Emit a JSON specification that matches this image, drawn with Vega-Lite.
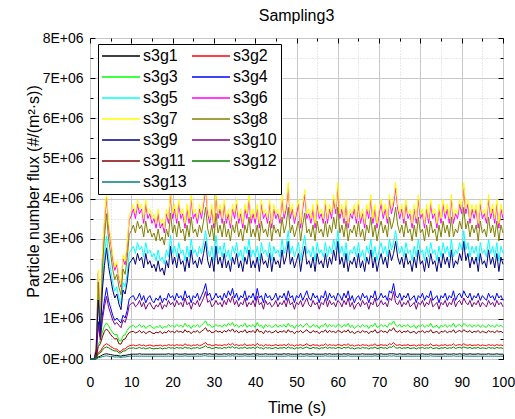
{
"$schema": "https://vega.github.io/schema/vega-lite/v6.json",
"width": 413, "height": 321,
"autosize": {"type": "none"},
"padding": {"left": 90, "top": 38, "right": 12, "bottom": 60},
"background": "white",
"title": {"text": "Sampling3", "fontSize": 16, "font": "Liberation Sans", "fontWeight": "normal", "color": "black", "offset": 14, "dy": 20, "anchor": "middle", "frame": "group", "baseline": "alphabetic"},
"data": {"values": [
{"t":0,"s3g1":0,"s3g2":0,"s3g3":0,"s3g4":0,"s3g5":0,"s3g6":0,"s3g7":0,"s3g8":0,"s3g9":0,"s3g10":0,"s3g11":0,"s3g12":0,"s3g13":0},
{"t":0.5,"s3g1":0,"s3g2":0,"s3g3":0,"s3g4":0,"s3g5":0,"s3g6":0,"s3g7":0,"s3g8":0,"s3g9":0,"s3g10":0,"s3g11":0,"s3g12":0,"s3g13":0},
{"t":1,"s3g1":0,"s3g2":0,"s3g3":0,"s3g4":0,"s3g5":0,"s3g6":0,"s3g7":0,"s3g8":0,"s3g9":0,"s3g10":0,"s3g11":0,"s3g12":0,"s3g13":0},
{"t":1.5,"s3g1":0.01,"s3g2":0.02,"s3g3":0.04,"s3g4":0.12,"s3g5":0.22,"s3g6":0.29,"s3g7":0.3,"s3g8":0.26,"s3g9":0.2,"s3g10":0.11,"s3g11":0.03,"s3g12":0.01,"s3g13":0},
{"t":2,"s3g1":0.05,"s3g2":0.16,"s3g3":0.37,"s3g4":0.93,"s3g5":1.63,"s3g6":2.14,"s3g7":2.22,"s3g8":1.92,"s3g9":1.47,"s3g10":0.83,"s3g11":0.31,"s3g12":0.13,"s3g13":0.03},
{"t":2.5,"s3g1":0.07,"s3g2":0.19,"s3g3":0.46,"s3g4":0.55,"s3g5":0.68,"s3g6":0.9,"s3g7":0.93,"s3g8":0.8,"s3g9":0.61,"s3g10":0.48,"s3g11":0.38,"s3g12":0.15,"s3g13":0.04},
{"t":3,"s3g1":0.1,"s3g2":0.28,"s3g3":0.66,"s3g4":1.09,"s3g5":1.9,"s3g6":2.5,"s3g7":2.59,"s3g8":2.24,"s3g9":1.72,"s3g10":0.97,"s3g11":0.55,"s3g12":0.22,"s3g13":0.06},
{"t":3.5,"s3g1":0.12,"s3g2":0.35,"s3g3":0.83,"s3g4":1.47,"s3g5":2.58,"s3g6":3.4,"s3g7":3.52,"s3g8":3.04,"s3g9":2.33,"s3g10":1.31,"s3g11":0.69,"s3g12":0.28,"s3g13":0.07},
{"t":4,"s3g1":0.13,"s3g2":0.38,"s3g3":0.9,"s3g4":1.78,"s3g5":3.07,"s3g6":4.03,"s3g7":4.18,"s3g8":3.62,"s3g9":2.77,"s3g10":1.56,"s3g11":0.75,"s3g12":0.3,"s3g13":0.08},
{"t":4.5,"s3g1":0.12,"s3g2":0.35,"s3g3":0.83,"s3g4":1.45,"s3g5":2.55,"s3g6":3.28,"s3g7":3.4,"s3g8":2.98,"s3g9":2.3,"s3g10":1.29,"s3g11":0.69,"s3g12":0.28,"s3g13":0.07},
{"t":5,"s3g1":0.11,"s3g2":0.31,"s3g3":0.73,"s3g4":1.27,"s3g5":2.23,"s3g6":2.92,"s3g7":3.03,"s3g8":2.62,"s3g9":2.01,"s3g10":1.13,"s3g11":0.61,"s3g12":0.25,"s3g13":0.06},
{"t":5.5,"s3g1":0.1,"s3g2":0.28,"s3g3":0.66,"s3g4":1.09,"s3g5":1.9,"s3g6":2.5,"s3g7":2.59,"s3g8":2.24,"s3g9":1.72,"s3g10":0.97,"s3g11":0.55,"s3g12":0.22,"s3g13":0.06},
{"t":6,"s3g1":0.09,"s3g2":0.25,"s3g3":0.6,"s3g4":0.96,"s3g5":1.69,"s3g6":2.21,"s3g7":2.29,"s3g8":1.98,"s3g9":1.52,"s3g10":0.86,"s3g11":0.5,"s3g12":0.2,"s3g13":0.05},
{"t":6.5,"s3g1":0.09,"s3g2":0.25,"s3g3":0.62,"s3g4":1.02,"s3g5":1.8,"s3g6":2.35,"s3g7":2.44,"s3g8":2.11,"s3g9":1.62,"s3g10":0.91,"s3g11":0.51,"s3g12":0.2,"s3g13":0.05},
{"t":7,"s3g1":0.08,"s3g2":0.19,"s3g3":0.46,"s3g4":0.95,"s3g5":1.52,"s3g6":2.0,"s3g7":2.07,"s3g8":1.79,"s3g9":1.37,"s3g10":0.84,"s3g11":0.38,"s3g12":0.15,"s3g13":0.05},
{"t":7.5,"s3g1":0.07,"s3g2":0.19,"s3g3":0.45,"s3g4":0.9,"s3g5":1.36,"s3g6":1.79,"s3g7":1.85,"s3g8":1.6,"s3g9":1.23,"s3g10":0.78,"s3g11":0.37,"s3g12":0.15,"s3g13":0.04},
{"t":8,"s3g1":0.09,"s3g2":0.25,"s3g3":0.58,"s3g4":1.09,"s3g5":1.9,"s3g6":2.5,"s3g7":2.59,"s3g8":2.24,"s3g9":1.72,"s3g10":0.97,"s3g11":0.48,"s3g12":0.2,"s3g13":0.05},
{"t":8.5,"s3g1":0.09,"s3g2":0.25,"s3g3":0.6,"s3g4":1.02,"s3g5":1.8,"s3g6":2.35,"s3g7":2.44,"s3g8":2.11,"s3g9":1.62,"s3g10":0.91,"s3g11":0.5,"s3g12":0.2,"s3g13":0.05},
{"t":9,"s3g1":0.1,"s3g2":0.3,"s3g3":0.71,"s3g4":1.21,"s3g5":2.12,"s3g6":2.79,"s3g7":2.89,"s3g8":2.5,"s3g9":1.91,"s3g10":1.08,"s3g11":0.59,"s3g12":0.24,"s3g13":0.06},
{"t":9.5,"s3g1":0.11,"s3g2":0.33,"s3g3":0.79,"s3g4":1.5,"s3g5":2.64,"s3g6":3.46,"s3g7":3.59,"s3g8":3.1,"s3g9":2.38,"s3g10":1.34,"s3g11":0.66,"s3g12":0.27,"s3g13":0.07},
{"t":10,"s3g1":0.12,"s3g2":0.34,"s3g3":0.81,"s3g4":1.55,"s3g5":2.72,"s3g6":3.57,"s3g7":3.7,"s3g8":3.2,"s3g9":2.45,"s3g10":1.38,"s3g11":0.68,"s3g12":0.27,"s3g13":0.07},
{"t":10.5,"s3g1":0.12,"s3g2":0.35,"s3g3":0.84,"s3g4":1.58,"s3g5":2.81,"s3g6":3.74,"s3g7":3.86,"s3g8":3.34,"s3g9":2.54,"s3g10":1.41,"s3g11":0.69,"s3g12":0.28,"s3g13":0.07},
{"t":11,"s3g1":0.12,"s3g2":0.33,"s3g3":0.79,"s3g4":1.46,"s3g5":2.63,"s3g6":3.5,"s3g7":3.62,"s3g8":3.14,"s3g9":2.36,"s3g10":1.3,"s3g11":0.65,"s3g12":0.26,"s3g13":0.07},
{"t":11.5,"s3g1":0.12,"s3g2":0.34,"s3g3":0.81,"s3g4":1.52,"s3g5":2.9,"s3g6":3.86,"s3g7":3.98,"s3g8":3.44,"s3g9":2.63,"s3g10":1.35,"s3g11":0.67,"s3g12":0.27,"s3g13":0.07},
{"t":12,"s3g1":0.13,"s3g2":0.36,"s3g3":0.86,"s3g4":1.64,"s3g5":2.72,"s3g6":3.62,"s3g7":3.74,"s3g8":3.24,"s3g9":2.45,"s3g10":1.46,"s3g11":0.71,"s3g12":0.29,"s3g13":0.07},
{"t":12.5,"s3g1":0.12,"s3g2":0.33,"s3g3":0.79,"s3g4":1.46,"s3g5":2.81,"s3g6":3.74,"s3g7":3.86,"s3g8":3.34,"s3g9":2.54,"s3g10":1.3,"s3g11":0.65,"s3g12":0.26,"s3g13":0.07},
{"t":13,"s3g1":0.12,"s3g2":0.35,"s3g3":0.84,"s3g4":1.58,"s3g5":2.54,"s3g6":3.38,"s3g7":3.5,"s3g8":3.04,"s3g9":2.27,"s3g10":1.41,"s3g11":0.69,"s3g12":0.28,"s3g13":0.07},
{"t":13.5,"s3g1":0.12,"s3g2":0.32,"s3g3":0.76,"s3g4":1.4,"s3g5":2.9,"s3g6":3.86,"s3g7":3.98,"s3g8":3.44,"s3g9":2.63,"s3g10":1.24,"s3g11":0.63,"s3g12":0.25,"s3g13":0.07},
{"t":14,"s3g1":0.12,"s3g2":0.34,"s3g3":0.81,"s3g4":1.52,"s3g5":2.63,"s3g6":3.5,"s3g7":3.62,"s3g8":3.14,"s3g9":2.36,"s3g10":1.35,"s3g11":0.67,"s3g12":0.27,"s3g13":0.07},
{"t":14.5,"s3g1":0.12,"s3g2":0.35,"s3g3":0.84,"s3g4":1.58,"s3g5":2.72,"s3g6":3.62,"s3g7":3.74,"s3g8":3.24,"s3g9":2.45,"s3g10":1.41,"s3g11":0.69,"s3g12":0.28,"s3g13":0.07},
{"t":15,"s3g1":0.12,"s3g2":0.33,"s3g3":0.79,"s3g4":1.46,"s3g5":2.54,"s3g6":3.38,"s3g7":3.5,"s3g8":3.04,"s3g9":2.27,"s3g10":1.3,"s3g11":0.65,"s3g12":0.26,"s3g13":0.07},
{"t":15.5,"s3g1":0.12,"s3g2":0.32,"s3g3":0.76,"s3g4":1.4,"s3g5":2.63,"s3g6":3.5,"s3g7":3.62,"s3g8":3.14,"s3g9":2.36,"s3g10":1.24,"s3g11":0.63,"s3g12":0.25,"s3g13":0.07},
{"t":16,"s3g1":0.12,"s3g2":0.34,"s3g3":0.81,"s3g4":1.52,"s3g5":2.45,"s3g6":3.26,"s3g7":3.38,"s3g8":2.94,"s3g9":2.18,"s3g10":1.35,"s3g11":0.67,"s3g12":0.27,"s3g13":0.07},
{"t":16.5,"s3g1":0.12,"s3g2":0.33,"s3g3":0.79,"s3g4":1.46,"s3g5":2.72,"s3g6":3.62,"s3g7":3.74,"s3g8":3.24,"s3g9":2.45,"s3g10":1.3,"s3g11":0.65,"s3g12":0.26,"s3g13":0.07},
{"t":17,"s3g1":0.12,"s3g2":0.35,"s3g3":0.84,"s3g4":1.58,"s3g5":2.45,"s3g6":3.26,"s3g7":3.38,"s3g8":2.94,"s3g9":2.18,"s3g10":1.41,"s3g11":0.69,"s3g12":0.28,"s3g13":0.07},
{"t":17.5,"s3g1":0.12,"s3g2":0.32,"s3g3":0.76,"s3g4":1.4,"s3g5":2.54,"s3g6":3.38,"s3g7":3.5,"s3g8":3.04,"s3g9":2.27,"s3g10":1.24,"s3g11":0.63,"s3g12":0.25,"s3g13":0.07},
{"t":18,"s3g1":0.12,"s3g2":0.34,"s3g3":0.81,"s3g4":1.52,"s3g5":2.36,"s3g6":3.14,"s3g7":3.26,"s3g8":2.84,"s3g9":2.09,"s3g10":1.35,"s3g11":0.67,"s3g12":0.27,"s3g13":0.07},
{"t":18.5,"s3g1":0.12,"s3g2":0.33,"s3g3":0.79,"s3g4":1.46,"s3g5":2.72,"s3g6":3.62,"s3g7":3.74,"s3g8":3.24,"s3g9":2.45,"s3g10":1.3,"s3g11":0.65,"s3g12":0.26,"s3g13":0.07},
{"t":19,"s3g1":0.13,"s3g2":0.36,"s3g3":0.86,"s3g4":1.64,"s3g5":2.54,"s3g6":3.38,"s3g7":3.5,"s3g8":3.04,"s3g9":2.27,"s3g10":1.46,"s3g11":0.71,"s3g12":0.29,"s3g13":0.07},
{"t":19.5,"s3g1":0.12,"s3g2":0.34,"s3g3":0.81,"s3g4":1.52,"s3g5":3.08,"s3g6":4.1,"s3g7":4.22,"s3g8":3.64,"s3g9":2.81,"s3g10":1.35,"s3g11":0.67,"s3g12":0.27,"s3g13":0.07},
{"t":20,"s3g1":0.12,"s3g2":0.35,"s3g3":0.84,"s3g4":1.58,"s3g5":2.63,"s3g6":3.5,"s3g7":3.62,"s3g8":3.14,"s3g9":2.36,"s3g10":1.41,"s3g11":0.69,"s3g12":0.28,"s3g13":0.07},
{"t":20.5,"s3g1":0.12,"s3g2":0.33,"s3g3":0.79,"s3g4":1.46,"s3g5":2.81,"s3g6":3.74,"s3g7":3.86,"s3g8":3.34,"s3g9":2.54,"s3g10":1.3,"s3g11":0.65,"s3g12":0.26,"s3g13":0.07},
{"t":21,"s3g1":0.13,"s3g2":0.36,"s3g3":0.86,"s3g4":1.64,"s3g5":2.54,"s3g6":3.38,"s3g7":3.5,"s3g8":3.04,"s3g9":2.27,"s3g10":1.46,"s3g11":0.71,"s3g12":0.29,"s3g13":0.07},
{"t":21.5,"s3g1":0.12,"s3g2":0.34,"s3g3":0.81,"s3g4":1.52,"s3g5":2.9,"s3g6":3.86,"s3g7":3.98,"s3g8":3.44,"s3g9":2.63,"s3g10":1.35,"s3g11":0.67,"s3g12":0.27,"s3g13":0.07},
{"t":22,"s3g1":0.12,"s3g2":0.35,"s3g3":0.84,"s3g4":1.58,"s3g5":2.63,"s3g6":3.5,"s3g7":3.62,"s3g8":3.14,"s3g9":2.36,"s3g10":1.41,"s3g11":0.69,"s3g12":0.28,"s3g13":0.07},
{"t":22.5,"s3g1":0.12,"s3g2":0.33,"s3g3":0.79,"s3g4":1.46,"s3g5":2.72,"s3g6":3.62,"s3g7":3.74,"s3g8":3.24,"s3g9":2.45,"s3g10":1.3,"s3g11":0.65,"s3g12":0.26,"s3g13":0.07},
{"t":23,"s3g1":0.13,"s3g2":0.38,"s3g3":0.89,"s3g4":1.7,"s3g5":2.45,"s3g6":3.26,"s3g7":3.38,"s3g8":2.94,"s3g9":2.18,"s3g10":1.52,"s3g11":0.73,"s3g12":0.3,"s3g13":0.08},
{"t":23.5,"s3g1":0.12,"s3g2":0.34,"s3g3":0.81,"s3g4":1.52,"s3g5":2.81,"s3g6":3.74,"s3g7":3.86,"s3g8":3.34,"s3g9":2.54,"s3g10":1.35,"s3g11":0.67,"s3g12":0.27,"s3g13":0.07},
{"t":24,"s3g1":0.12,"s3g2":0.35,"s3g3":0.84,"s3g4":1.58,"s3g5":2.54,"s3g6":3.38,"s3g7":3.5,"s3g8":3.04,"s3g9":2.27,"s3g10":1.41,"s3g11":0.69,"s3g12":0.28,"s3g13":0.07},
{"t":24.5,"s3g1":0.12,"s3g2":0.32,"s3g3":0.76,"s3g4":1.4,"s3g5":2.99,"s3g6":3.98,"s3g7":4.1,"s3g8":3.54,"s3g9":2.72,"s3g10":1.24,"s3g11":0.63,"s3g12":0.25,"s3g13":0.07},
{"t":25,"s3g1":0.12,"s3g2":0.35,"s3g3":0.84,"s3g4":1.58,"s3g5":2.63,"s3g6":3.5,"s3g7":3.62,"s3g8":3.14,"s3g9":2.36,"s3g10":1.41,"s3g11":0.69,"s3g12":0.28,"s3g13":0.07},
{"t":25.5,"s3g1":0.12,"s3g2":0.34,"s3g3":0.81,"s3g4":1.52,"s3g5":2.72,"s3g6":3.62,"s3g7":3.74,"s3g8":3.24,"s3g9":2.45,"s3g10":1.35,"s3g11":0.67,"s3g12":0.27,"s3g13":0.07},
{"t":26,"s3g1":0.13,"s3g2":0.36,"s3g3":0.86,"s3g4":1.64,"s3g5":2.54,"s3g6":3.38,"s3g7":3.5,"s3g8":3.04,"s3g9":2.27,"s3g10":1.46,"s3g11":0.71,"s3g12":0.29,"s3g13":0.07},
{"t":26.5,"s3g1":0.12,"s3g2":0.33,"s3g3":0.79,"s3g4":1.46,"s3g5":2.81,"s3g6":3.74,"s3g7":3.86,"s3g8":3.34,"s3g9":2.54,"s3g10":1.3,"s3g11":0.65,"s3g12":0.26,"s3g13":0.07},
{"t":27,"s3g1":0.12,"s3g2":0.35,"s3g3":0.84,"s3g4":1.58,"s3g5":2.63,"s3g6":3.5,"s3g7":3.62,"s3g8":3.14,"s3g9":2.36,"s3g10":1.41,"s3g11":0.69,"s3g12":0.28,"s3g13":0.07},
{"t":27.5,"s3g1":0.13,"s3g2":0.38,"s3g3":0.89,"s3g4":1.7,"s3g5":2.9,"s3g6":3.86,"s3g7":3.98,"s3g8":3.44,"s3g9":2.63,"s3g10":1.52,"s3g11":0.73,"s3g12":0.3,"s3g13":0.08},
{"t":28,"s3g1":0.13,"s3g2":0.41,"s3g3":0.95,"s3g4":1.88,"s3g5":3.2,"s3g6":4.26,"s3g7":4.4,"s3g8":3.78,"s3g9":2.93,"s3g10":1.68,"s3g11":0.78,"s3g12":0.33,"s3g13":0.08},
{"t":28.5,"s3g1":0.12,"s3g2":0.35,"s3g3":0.84,"s3g4":1.58,"s3g5":2.72,"s3g6":3.62,"s3g7":3.74,"s3g8":3.24,"s3g9":2.45,"s3g10":1.41,"s3g11":0.69,"s3g12":0.28,"s3g13":0.07},
{"t":29,"s3g1":0.13,"s3g2":0.36,"s3g3":0.86,"s3g4":1.64,"s3g5":2.54,"s3g6":3.38,"s3g7":3.5,"s3g8":3.04,"s3g9":2.27,"s3g10":1.46,"s3g11":0.71,"s3g12":0.29,"s3g13":0.07},
{"t":29.5,"s3g1":0.12,"s3g2":0.33,"s3g3":0.79,"s3g4":1.46,"s3g5":2.81,"s3g6":3.74,"s3g7":3.86,"s3g8":3.34,"s3g9":2.54,"s3g10":1.3,"s3g11":0.65,"s3g12":0.26,"s3g13":0.07},
{"t":30,"s3g1":0.12,"s3g2":0.34,"s3g3":0.81,"s3g4":1.52,"s3g5":2.45,"s3g6":3.26,"s3g7":3.38,"s3g8":2.94,"s3g9":2.18,"s3g10":1.35,"s3g11":0.67,"s3g12":0.27,"s3g13":0.07},
{"t":30.5,"s3g1":0.13,"s3g2":0.36,"s3g3":0.86,"s3g4":1.64,"s3g5":3.08,"s3g6":4.1,"s3g7":4.22,"s3g8":3.64,"s3g9":2.81,"s3g10":1.46,"s3g11":0.71,"s3g12":0.29,"s3g13":0.07},
{"t":31,"s3g1":0.12,"s3g2":0.34,"s3g3":0.81,"s3g4":1.52,"s3g5":2.63,"s3g6":3.5,"s3g7":3.62,"s3g8":3.14,"s3g9":2.36,"s3g10":1.35,"s3g11":0.67,"s3g12":0.27,"s3g13":0.07},
{"t":31.5,"s3g1":0.12,"s3g2":0.35,"s3g3":0.84,"s3g4":1.58,"s3g5":2.81,"s3g6":3.74,"s3g7":3.86,"s3g8":3.34,"s3g9":2.54,"s3g10":1.41,"s3g11":0.69,"s3g12":0.28,"s3g13":0.07},
{"t":32,"s3g1":0.12,"s3g2":0.33,"s3g3":0.79,"s3g4":1.46,"s3g5":2.54,"s3g6":3.38,"s3g7":3.5,"s3g8":3.04,"s3g9":2.27,"s3g10":1.3,"s3g11":0.65,"s3g12":0.26,"s3g13":0.07},
{"t":32.5,"s3g1":0.13,"s3g2":0.36,"s3g3":0.86,"s3g4":1.64,"s3g5":2.9,"s3g6":3.86,"s3g7":3.98,"s3g8":3.44,"s3g9":2.63,"s3g10":1.46,"s3g11":0.71,"s3g12":0.29,"s3g13":0.07},
{"t":33,"s3g1":0.12,"s3g2":0.34,"s3g3":0.81,"s3g4":1.52,"s3g5":2.54,"s3g6":3.38,"s3g7":3.5,"s3g8":3.04,"s3g9":2.27,"s3g10":1.35,"s3g11":0.67,"s3g12":0.27,"s3g13":0.07},
{"t":33.5,"s3g1":0.13,"s3g2":0.38,"s3g3":0.89,"s3g4":1.7,"s3g5":2.72,"s3g6":3.62,"s3g7":3.74,"s3g8":3.24,"s3g9":2.45,"s3g10":1.52,"s3g11":0.73,"s3g12":0.3,"s3g13":0.08},
{"t":34,"s3g1":0.12,"s3g2":0.35,"s3g3":0.84,"s3g4":1.58,"s3g5":2.45,"s3g6":3.26,"s3g7":3.38,"s3g8":2.94,"s3g9":2.18,"s3g10":1.41,"s3g11":0.69,"s3g12":0.28,"s3g13":0.07},
{"t":34.5,"s3g1":0.13,"s3g2":0.39,"s3g3":0.91,"s3g4":1.76,"s3g5":2.81,"s3g6":3.74,"s3g7":3.86,"s3g8":3.34,"s3g9":2.54,"s3g10":1.57,"s3g11":0.75,"s3g12":0.31,"s3g13":0.08},
{"t":35,"s3g1":0.12,"s3g2":0.34,"s3g3":0.81,"s3g4":1.52,"s3g5":2.63,"s3g6":3.5,"s3g7":3.62,"s3g8":3.14,"s3g9":2.36,"s3g10":1.35,"s3g11":0.67,"s3g12":0.27,"s3g13":0.07},
{"t":35.5,"s3g1":0.13,"s3g2":0.36,"s3g3":0.86,"s3g4":1.64,"s3g5":2.9,"s3g6":3.86,"s3g7":3.98,"s3g8":3.44,"s3g9":2.63,"s3g10":1.46,"s3g11":0.71,"s3g12":0.29,"s3g13":0.07},
{"t":36,"s3g1":0.12,"s3g2":0.33,"s3g3":0.79,"s3g4":1.46,"s3g5":2.54,"s3g6":3.38,"s3g7":3.5,"s3g8":3.04,"s3g9":2.27,"s3g10":1.3,"s3g11":0.65,"s3g12":0.26,"s3g13":0.07},
{"t":36.5,"s3g1":0.12,"s3g2":0.35,"s3g3":0.84,"s3g4":1.58,"s3g5":2.72,"s3g6":3.62,"s3g7":3.74,"s3g8":3.24,"s3g9":2.45,"s3g10":1.41,"s3g11":0.69,"s3g12":0.28,"s3g13":0.07},
{"t":37,"s3g1":0.12,"s3g2":0.34,"s3g3":0.81,"s3g4":1.52,"s3g5":2.45,"s3g6":3.26,"s3g7":3.38,"s3g8":2.94,"s3g9":2.18,"s3g10":1.35,"s3g11":0.67,"s3g12":0.27,"s3g13":0.07},
{"t":37.5,"s3g1":0.13,"s3g2":0.38,"s3g3":0.89,"s3g4":1.7,"s3g5":2.81,"s3g6":3.74,"s3g7":3.86,"s3g8":3.34,"s3g9":2.54,"s3g10":1.52,"s3g11":0.73,"s3g12":0.3,"s3g13":0.08},
{"t":38,"s3g1":0.12,"s3g2":0.33,"s3g3":0.79,"s3g4":1.46,"s3g5":2.63,"s3g6":3.5,"s3g7":3.62,"s3g8":3.14,"s3g9":2.36,"s3g10":1.3,"s3g11":0.65,"s3g12":0.26,"s3g13":0.07},
{"t":38.5,"s3g1":0.12,"s3g2":0.35,"s3g3":0.84,"s3g4":1.58,"s3g5":2.99,"s3g6":3.98,"s3g7":4.1,"s3g8":3.54,"s3g9":2.72,"s3g10":1.41,"s3g11":0.69,"s3g12":0.28,"s3g13":0.07},
{"t":39,"s3g1":0.12,"s3g2":0.34,"s3g3":0.81,"s3g4":1.52,"s3g5":2.54,"s3g6":3.38,"s3g7":3.5,"s3g8":3.04,"s3g9":2.27,"s3g10":1.35,"s3g11":0.67,"s3g12":0.27,"s3g13":0.07},
{"t":39.5,"s3g1":0.13,"s3g2":0.36,"s3g3":0.86,"s3g4":1.64,"s3g5":2.72,"s3g6":3.62,"s3g7":3.74,"s3g8":3.24,"s3g9":2.45,"s3g10":1.46,"s3g11":0.71,"s3g12":0.29,"s3g13":0.07},
{"t":40,"s3g1":0.12,"s3g2":0.33,"s3g3":0.79,"s3g4":1.46,"s3g5":2.54,"s3g6":3.38,"s3g7":3.5,"s3g8":3.04,"s3g9":2.27,"s3g10":1.3,"s3g11":0.65,"s3g12":0.26,"s3g13":0.07},
{"t":40.5,"s3g1":0.13,"s3g2":0.39,"s3g3":0.91,"s3g4":1.76,"s3g5":2.81,"s3g6":3.74,"s3g7":3.86,"s3g8":3.34,"s3g9":2.54,"s3g10":1.57,"s3g11":0.75,"s3g12":0.31,"s3g13":0.08},
{"t":41,"s3g1":0.12,"s3g2":0.34,"s3g3":0.81,"s3g4":1.52,"s3g5":2.45,"s3g6":3.26,"s3g7":3.38,"s3g8":2.94,"s3g9":2.18,"s3g10":1.35,"s3g11":0.67,"s3g12":0.27,"s3g13":0.07},
{"t":41.5,"s3g1":0.12,"s3g2":0.35,"s3g3":0.84,"s3g4":1.58,"s3g5":2.9,"s3g6":3.86,"s3g7":3.98,"s3g8":3.44,"s3g9":2.63,"s3g10":1.41,"s3g11":0.69,"s3g12":0.28,"s3g13":0.07},
{"t":42,"s3g1":0.12,"s3g2":0.32,"s3g3":0.76,"s3g4":1.4,"s3g5":2.63,"s3g6":3.5,"s3g7":3.62,"s3g8":3.14,"s3g9":2.36,"s3g10":1.24,"s3g11":0.63,"s3g12":0.25,"s3g13":0.07},
{"t":42.5,"s3g1":0.13,"s3g2":0.36,"s3g3":0.86,"s3g4":1.64,"s3g5":2.72,"s3g6":3.62,"s3g7":3.74,"s3g8":3.24,"s3g9":2.45,"s3g10":1.46,"s3g11":0.71,"s3g12":0.29,"s3g13":0.07},
{"t":43,"s3g1":0.12,"s3g2":0.34,"s3g3":0.81,"s3g4":1.52,"s3g5":2.54,"s3g6":3.38,"s3g7":3.5,"s3g8":3.04,"s3g9":2.27,"s3g10":1.35,"s3g11":0.67,"s3g12":0.27,"s3g13":0.07},
{"t":43.5,"s3g1":0.12,"s3g2":0.35,"s3g3":0.84,"s3g4":1.58,"s3g5":2.9,"s3g6":3.86,"s3g7":3.98,"s3g8":3.44,"s3g9":2.63,"s3g10":1.41,"s3g11":0.69,"s3g12":0.28,"s3g13":0.07},
{"t":44,"s3g1":0.12,"s3g2":0.33,"s3g3":0.79,"s3g4":1.46,"s3g5":2.45,"s3g6":3.26,"s3g7":3.38,"s3g8":2.94,"s3g9":2.18,"s3g10":1.3,"s3g11":0.65,"s3g12":0.26,"s3g13":0.07},
{"t":44.5,"s3g1":0.12,"s3g2":0.34,"s3g3":0.81,"s3g4":1.52,"s3g5":2.81,"s3g6":3.74,"s3g7":3.86,"s3g8":3.34,"s3g9":2.54,"s3g10":1.35,"s3g11":0.67,"s3g12":0.27,"s3g13":0.07},
{"t":45,"s3g1":0.13,"s3g2":0.36,"s3g3":0.86,"s3g4":1.64,"s3g5":2.63,"s3g6":3.5,"s3g7":3.62,"s3g8":3.14,"s3g9":2.36,"s3g10":1.46,"s3g11":0.71,"s3g12":0.29,"s3g13":0.07},
{"t":45.5,"s3g1":0.12,"s3g2":0.33,"s3g3":0.79,"s3g4":1.46,"s3g5":2.72,"s3g6":3.62,"s3g7":3.74,"s3g8":3.24,"s3g9":2.45,"s3g10":1.3,"s3g11":0.65,"s3g12":0.26,"s3g13":0.07},
{"t":46,"s3g1":0.12,"s3g2":0.35,"s3g3":0.84,"s3g4":1.58,"s3g5":2.54,"s3g6":3.38,"s3g7":3.5,"s3g8":3.04,"s3g9":2.27,"s3g10":1.41,"s3g11":0.69,"s3g12":0.28,"s3g13":0.07},
{"t":46.5,"s3g1":0.12,"s3g2":0.34,"s3g3":0.81,"s3g4":1.52,"s3g5":2.99,"s3g6":3.98,"s3g7":4.1,"s3g8":3.54,"s3g9":2.72,"s3g10":1.35,"s3g11":0.67,"s3g12":0.27,"s3g13":0.07},
{"t":47,"s3g1":0.13,"s3g2":0.36,"s3g3":0.86,"s3g4":1.64,"s3g5":2.63,"s3g6":3.5,"s3g7":3.62,"s3g8":3.14,"s3g9":2.36,"s3g10":1.46,"s3g11":0.71,"s3g12":0.29,"s3g13":0.07},
{"t":47.5,"s3g1":0.12,"s3g2":0.33,"s3g3":0.79,"s3g4":1.46,"s3g5":2.81,"s3g6":3.74,"s3g7":3.86,"s3g8":3.34,"s3g9":2.54,"s3g10":1.3,"s3g11":0.65,"s3g12":0.26,"s3g13":0.07},
{"t":48,"s3g1":0.13,"s3g2":0.38,"s3g3":0.89,"s3g4":1.7,"s3g5":3.2,"s3g6":4.26,"s3g7":4.4,"s3g8":3.78,"s3g9":2.93,"s3g10":1.52,"s3g11":0.73,"s3g12":0.3,"s3g13":0.08},
{"t":48.5,"s3g1":0.12,"s3g2":0.34,"s3g3":0.81,"s3g4":1.52,"s3g5":2.63,"s3g6":3.5,"s3g7":3.62,"s3g8":3.14,"s3g9":2.36,"s3g10":1.35,"s3g11":0.67,"s3g12":0.27,"s3g13":0.07},
{"t":49,"s3g1":0.12,"s3g2":0.35,"s3g3":0.84,"s3g4":1.58,"s3g5":2.81,"s3g6":3.74,"s3g7":3.86,"s3g8":3.34,"s3g9":2.54,"s3g10":1.41,"s3g11":0.69,"s3g12":0.28,"s3g13":0.07},
{"t":49.5,"s3g1":0.12,"s3g2":0.32,"s3g3":0.76,"s3g4":1.4,"s3g5":2.54,"s3g6":3.38,"s3g7":3.5,"s3g8":3.04,"s3g9":2.27,"s3g10":1.24,"s3g11":0.63,"s3g12":0.25,"s3g13":0.07},
{"t":50,"s3g1":0.12,"s3g2":0.35,"s3g3":0.84,"s3g4":1.58,"s3g5":2.72,"s3g6":3.62,"s3g7":3.74,"s3g8":3.24,"s3g9":2.45,"s3g10":1.41,"s3g11":0.69,"s3g12":0.28,"s3g13":0.07},
{"t":50.5,"s3g1":0.12,"s3g2":0.34,"s3g3":0.81,"s3g4":1.52,"s3g5":2.9,"s3g6":3.86,"s3g7":3.98,"s3g8":3.44,"s3g9":2.63,"s3g10":1.35,"s3g11":0.67,"s3g12":0.27,"s3g13":0.07},
{"t":51,"s3g1":0.13,"s3g2":0.36,"s3g3":0.86,"s3g4":1.64,"s3g5":2.45,"s3g6":3.26,"s3g7":3.38,"s3g8":2.94,"s3g9":2.18,"s3g10":1.46,"s3g11":0.71,"s3g12":0.29,"s3g13":0.07},
{"t":51.5,"s3g1":0.12,"s3g2":0.33,"s3g3":0.79,"s3g4":1.46,"s3g5":2.81,"s3g6":3.74,"s3g7":3.86,"s3g8":3.34,"s3g9":2.54,"s3g10":1.3,"s3g11":0.65,"s3g12":0.26,"s3g13":0.07},
{"t":52,"s3g1":0.12,"s3g2":0.35,"s3g3":0.84,"s3g4":1.58,"s3g5":3.08,"s3g6":4.1,"s3g7":4.22,"s3g8":3.64,"s3g9":2.81,"s3g10":1.41,"s3g11":0.69,"s3g12":0.28,"s3g13":0.07},
{"t":52.5,"s3g1":0.13,"s3g2":0.38,"s3g3":0.89,"s3g4":1.7,"s3g5":2.63,"s3g6":3.5,"s3g7":3.62,"s3g8":3.14,"s3g9":2.36,"s3g10":1.52,"s3g11":0.73,"s3g12":0.3,"s3g13":0.08},
{"t":53,"s3g1":0.12,"s3g2":0.34,"s3g3":0.81,"s3g4":1.52,"s3g5":2.72,"s3g6":3.62,"s3g7":3.74,"s3g8":3.24,"s3g9":2.45,"s3g10":1.35,"s3g11":0.67,"s3g12":0.27,"s3g13":0.07},
{"t":53.5,"s3g1":0.12,"s3g2":0.33,"s3g3":0.79,"s3g4":1.46,"s3g5":2.54,"s3g6":3.38,"s3g7":3.5,"s3g8":3.04,"s3g9":2.27,"s3g10":1.3,"s3g11":0.65,"s3g12":0.26,"s3g13":0.07},
{"t":54,"s3g1":0.13,"s3g2":0.36,"s3g3":0.86,"s3g4":1.64,"s3g5":2.81,"s3g6":3.74,"s3g7":3.86,"s3g8":3.34,"s3g9":2.54,"s3g10":1.46,"s3g11":0.71,"s3g12":0.29,"s3g13":0.07},
{"t":54.5,"s3g1":0.12,"s3g2":0.34,"s3g3":0.81,"s3g4":1.52,"s3g5":2.45,"s3g6":3.26,"s3g7":3.38,"s3g8":2.94,"s3g9":2.18,"s3g10":1.35,"s3g11":0.67,"s3g12":0.27,"s3g13":0.07},
{"t":55,"s3g1":0.12,"s3g2":0.35,"s3g3":0.84,"s3g4":1.58,"s3g5":2.9,"s3g6":3.86,"s3g7":3.98,"s3g8":3.44,"s3g9":2.63,"s3g10":1.41,"s3g11":0.69,"s3g12":0.28,"s3g13":0.07},
{"t":55.5,"s3g1":0.12,"s3g2":0.32,"s3g3":0.76,"s3g4":1.4,"s3g5":2.63,"s3g6":3.5,"s3g7":3.62,"s3g8":3.14,"s3g9":2.36,"s3g10":1.24,"s3g11":0.63,"s3g12":0.25,"s3g13":0.07},
{"t":56,"s3g1":0.12,"s3g2":0.35,"s3g3":0.84,"s3g4":1.58,"s3g5":2.72,"s3g6":3.62,"s3g7":3.74,"s3g8":3.24,"s3g9":2.45,"s3g10":1.41,"s3g11":0.69,"s3g12":0.28,"s3g13":0.07},
{"t":56.5,"s3g1":0.12,"s3g2":0.34,"s3g3":0.81,"s3g4":1.52,"s3g5":2.54,"s3g6":3.38,"s3g7":3.5,"s3g8":3.04,"s3g9":2.27,"s3g10":1.35,"s3g11":0.67,"s3g12":0.27,"s3g13":0.07},
{"t":57,"s3g1":0.13,"s3g2":0.38,"s3g3":0.89,"s3g4":1.7,"s3g5":2.9,"s3g6":3.86,"s3g7":3.98,"s3g8":3.44,"s3g9":2.63,"s3g10":1.52,"s3g11":0.73,"s3g12":0.3,"s3g13":0.08},
{"t":57.5,"s3g1":0.12,"s3g2":0.33,"s3g3":0.79,"s3g4":1.46,"s3g5":2.54,"s3g6":3.38,"s3g7":3.5,"s3g8":3.04,"s3g9":2.27,"s3g10":1.3,"s3g11":0.65,"s3g12":0.26,"s3g13":0.07},
{"t":58,"s3g1":0.13,"s3g2":0.36,"s3g3":0.86,"s3g4":1.64,"s3g5":2.81,"s3g6":3.74,"s3g7":3.86,"s3g8":3.34,"s3g9":2.54,"s3g10":1.46,"s3g11":0.71,"s3g12":0.29,"s3g13":0.07},
{"t":58.5,"s3g1":0.12,"s3g2":0.34,"s3g3":0.81,"s3g4":1.52,"s3g5":2.63,"s3g6":3.5,"s3g7":3.62,"s3g8":3.14,"s3g9":2.36,"s3g10":1.35,"s3g11":0.67,"s3g12":0.27,"s3g13":0.07},
{"t":59,"s3g1":0.12,"s3g2":0.35,"s3g3":0.84,"s3g4":1.58,"s3g5":2.99,"s3g6":3.98,"s3g7":4.1,"s3g8":3.54,"s3g9":2.72,"s3g10":1.41,"s3g11":0.69,"s3g12":0.28,"s3g13":0.07},
{"t":59.5,"s3g1":0.12,"s3g2":0.33,"s3g3":0.79,"s3g4":1.46,"s3g5":2.72,"s3g6":3.62,"s3g7":3.74,"s3g8":3.24,"s3g9":2.45,"s3g10":1.3,"s3g11":0.65,"s3g12":0.26,"s3g13":0.07},
{"t":60,"s3g1":0.13,"s3g2":0.36,"s3g3":0.86,"s3g4":1.64,"s3g5":3.2,"s3g6":4.26,"s3g7":4.4,"s3g8":3.78,"s3g9":2.93,"s3g10":1.46,"s3g11":0.71,"s3g12":0.29,"s3g13":0.07},
{"t":60.5,"s3g1":0.12,"s3g2":0.35,"s3g3":0.84,"s3g4":1.58,"s3g5":2.63,"s3g6":3.5,"s3g7":3.62,"s3g8":3.14,"s3g9":2.36,"s3g10":1.41,"s3g11":0.69,"s3g12":0.28,"s3g13":0.07},
{"t":61,"s3g1":0.12,"s3g2":0.33,"s3g3":0.79,"s3g4":1.46,"s3g5":2.81,"s3g6":3.74,"s3g7":3.86,"s3g8":3.34,"s3g9":2.54,"s3g10":1.3,"s3g11":0.65,"s3g12":0.26,"s3g13":0.07},
{"t":61.5,"s3g1":0.13,"s3g2":0.36,"s3g3":0.86,"s3g4":1.64,"s3g5":2.54,"s3g6":3.38,"s3g7":3.5,"s3g8":3.04,"s3g9":2.27,"s3g10":1.46,"s3g11":0.71,"s3g12":0.29,"s3g13":0.07},
{"t":62,"s3g1":0.12,"s3g2":0.34,"s3g3":0.81,"s3g4":1.52,"s3g5":2.9,"s3g6":3.86,"s3g7":3.98,"s3g8":3.44,"s3g9":2.63,"s3g10":1.35,"s3g11":0.67,"s3g12":0.27,"s3g13":0.07},
{"t":62.5,"s3g1":0.13,"s3g2":0.38,"s3g3":0.89,"s3g4":1.7,"s3g5":2.45,"s3g6":3.26,"s3g7":3.38,"s3g8":2.94,"s3g9":2.18,"s3g10":1.52,"s3g11":0.73,"s3g12":0.3,"s3g13":0.08},
{"t":63,"s3g1":0.12,"s3g2":0.33,"s3g3":0.79,"s3g4":1.46,"s3g5":2.72,"s3g6":3.62,"s3g7":3.74,"s3g8":3.24,"s3g9":2.45,"s3g10":1.3,"s3g11":0.65,"s3g12":0.26,"s3g13":0.07},
{"t":63.5,"s3g1":0.12,"s3g2":0.35,"s3g3":0.84,"s3g4":1.58,"s3g5":2.63,"s3g6":3.5,"s3g7":3.62,"s3g8":3.14,"s3g9":2.36,"s3g10":1.41,"s3g11":0.69,"s3g12":0.28,"s3g13":0.07},
{"t":64,"s3g1":0.12,"s3g2":0.32,"s3g3":0.76,"s3g4":1.4,"s3g5":2.81,"s3g6":3.74,"s3g7":3.86,"s3g8":3.34,"s3g9":2.54,"s3g10":1.24,"s3g11":0.63,"s3g12":0.25,"s3g13":0.07},
{"t":64.5,"s3g1":0.12,"s3g2":0.34,"s3g3":0.81,"s3g4":1.52,"s3g5":2.54,"s3g6":3.38,"s3g7":3.5,"s3g8":3.04,"s3g9":2.27,"s3g10":1.35,"s3g11":0.67,"s3g12":0.27,"s3g13":0.07},
{"t":65,"s3g1":0.12,"s3g2":0.35,"s3g3":0.84,"s3g4":1.58,"s3g5":2.9,"s3g6":3.86,"s3g7":3.98,"s3g8":3.44,"s3g9":2.63,"s3g10":1.41,"s3g11":0.69,"s3g12":0.28,"s3g13":0.07},
{"t":65.5,"s3g1":0.12,"s3g2":0.33,"s3g3":0.79,"s3g4":1.46,"s3g5":2.54,"s3g6":3.38,"s3g7":3.5,"s3g8":3.04,"s3g9":2.27,"s3g10":1.3,"s3g11":0.65,"s3g12":0.26,"s3g13":0.07},
{"t":66,"s3g1":0.13,"s3g2":0.36,"s3g3":0.86,"s3g4":1.64,"s3g5":2.72,"s3g6":3.62,"s3g7":3.74,"s3g8":3.24,"s3g9":2.45,"s3g10":1.46,"s3g11":0.71,"s3g12":0.29,"s3g13":0.07},
{"t":66.5,"s3g1":0.12,"s3g2":0.34,"s3g3":0.81,"s3g4":1.52,"s3g5":2.45,"s3g6":3.26,"s3g7":3.38,"s3g8":2.94,"s3g9":2.18,"s3g10":1.35,"s3g11":0.67,"s3g12":0.27,"s3g13":0.07},
{"t":67,"s3g1":0.12,"s3g2":0.35,"s3g3":0.84,"s3g4":1.58,"s3g5":2.81,"s3g6":3.74,"s3g7":3.86,"s3g8":3.34,"s3g9":2.54,"s3g10":1.41,"s3g11":0.69,"s3g12":0.28,"s3g13":0.07},
{"t":67.5,"s3g1":0.12,"s3g2":0.32,"s3g3":0.76,"s3g4":1.4,"s3g5":2.63,"s3g6":3.5,"s3g7":3.62,"s3g8":3.14,"s3g9":2.36,"s3g10":1.24,"s3g11":0.63,"s3g12":0.25,"s3g13":0.07},
{"t":68,"s3g1":0.12,"s3g2":0.35,"s3g3":0.84,"s3g4":1.58,"s3g5":2.99,"s3g6":3.98,"s3g7":4.1,"s3g8":3.54,"s3g9":2.72,"s3g10":1.41,"s3g11":0.69,"s3g12":0.28,"s3g13":0.07},
{"t":68.5,"s3g1":0.12,"s3g2":0.34,"s3g3":0.81,"s3g4":1.52,"s3g5":2.54,"s3g6":3.38,"s3g7":3.5,"s3g8":3.04,"s3g9":2.27,"s3g10":1.35,"s3g11":0.67,"s3g12":0.27,"s3g13":0.07},
{"t":69,"s3g1":0.13,"s3g2":0.38,"s3g3":0.89,"s3g4":1.7,"s3g5":2.81,"s3g6":3.74,"s3g7":3.86,"s3g8":3.34,"s3g9":2.54,"s3g10":1.52,"s3g11":0.73,"s3g12":0.3,"s3g13":0.08},
{"t":69.5,"s3g1":0.12,"s3g2":0.33,"s3g3":0.79,"s3g4":1.46,"s3g5":2.45,"s3g6":3.26,"s3g7":3.38,"s3g8":2.94,"s3g9":2.18,"s3g10":1.3,"s3g11":0.65,"s3g12":0.26,"s3g13":0.07},
{"t":70,"s3g1":0.12,"s3g2":0.34,"s3g3":0.81,"s3g4":1.52,"s3g5":2.72,"s3g6":3.62,"s3g7":3.74,"s3g8":3.24,"s3g9":2.45,"s3g10":1.35,"s3g11":0.67,"s3g12":0.27,"s3g13":0.07},
{"t":70.5,"s3g1":0.13,"s3g2":0.36,"s3g3":0.86,"s3g4":1.64,"s3g5":2.9,"s3g6":3.86,"s3g7":3.98,"s3g8":3.44,"s3g9":2.63,"s3g10":1.46,"s3g11":0.71,"s3g12":0.29,"s3g13":0.07},
{"t":71,"s3g1":0.12,"s3g2":0.34,"s3g3":0.81,"s3g4":1.52,"s3g5":2.63,"s3g6":3.5,"s3g7":3.62,"s3g8":3.14,"s3g9":2.36,"s3g10":1.35,"s3g11":0.67,"s3g12":0.27,"s3g13":0.07},
{"t":71.5,"s3g1":0.12,"s3g2":0.35,"s3g3":0.84,"s3g4":1.58,"s3g5":2.81,"s3g6":3.74,"s3g7":3.86,"s3g8":3.34,"s3g9":2.54,"s3g10":1.41,"s3g11":0.69,"s3g12":0.28,"s3g13":0.07},
{"t":72,"s3g1":0.12,"s3g2":0.33,"s3g3":0.79,"s3g4":1.46,"s3g5":2.54,"s3g6":3.38,"s3g7":3.5,"s3g8":3.04,"s3g9":2.27,"s3g10":1.3,"s3g11":0.65,"s3g12":0.26,"s3g13":0.07},
{"t":72.5,"s3g1":0.13,"s3g2":0.38,"s3g3":0.89,"s3g4":1.7,"s3g5":2.99,"s3g6":3.98,"s3g7":4.1,"s3g8":3.54,"s3g9":2.72,"s3g10":1.52,"s3g11":0.73,"s3g12":0.3,"s3g13":0.08},
{"t":73,"s3g1":0.13,"s3g2":0.36,"s3g3":0.86,"s3g4":1.64,"s3g5":2.72,"s3g6":3.62,"s3g7":3.74,"s3g8":3.24,"s3g9":2.45,"s3g10":1.46,"s3g11":0.71,"s3g12":0.29,"s3g13":0.07},
{"t":73.5,"s3g1":0.13,"s3g2":0.41,"s3g3":0.95,"s3g4":1.88,"s3g5":2.9,"s3g6":3.86,"s3g7":3.98,"s3g8":3.44,"s3g9":2.63,"s3g10":1.68,"s3g11":0.78,"s3g12":0.33,"s3g13":0.08},
{"t":74,"s3g1":0.12,"s3g2":0.35,"s3g3":0.84,"s3g4":1.58,"s3g5":3.2,"s3g6":4.26,"s3g7":4.4,"s3g8":3.78,"s3g9":2.93,"s3g10":1.41,"s3g11":0.69,"s3g12":0.28,"s3g13":0.07},
{"t":74.5,"s3g1":0.12,"s3g2":0.34,"s3g3":0.81,"s3g4":1.52,"s3g5":2.81,"s3g6":3.74,"s3g7":3.86,"s3g8":3.34,"s3g9":2.54,"s3g10":1.35,"s3g11":0.67,"s3g12":0.27,"s3g13":0.07},
{"t":75,"s3g1":0.13,"s3g2":0.36,"s3g3":0.86,"s3g4":1.64,"s3g5":2.63,"s3g6":3.5,"s3g7":3.62,"s3g8":3.14,"s3g9":2.36,"s3g10":1.46,"s3g11":0.71,"s3g12":0.29,"s3g13":0.07},
{"t":75.5,"s3g1":0.12,"s3g2":0.33,"s3g3":0.79,"s3g4":1.46,"s3g5":2.81,"s3g6":3.74,"s3g7":3.86,"s3g8":3.34,"s3g9":2.54,"s3g10":1.3,"s3g11":0.65,"s3g12":0.26,"s3g13":0.07},
{"t":76,"s3g1":0.12,"s3g2":0.35,"s3g3":0.84,"s3g4":1.58,"s3g5":2.54,"s3g6":3.38,"s3g7":3.5,"s3g8":3.04,"s3g9":2.27,"s3g10":1.41,"s3g11":0.69,"s3g12":0.28,"s3g13":0.07},
{"t":76.5,"s3g1":0.12,"s3g2":0.34,"s3g3":0.81,"s3g4":1.52,"s3g5":2.9,"s3g6":3.86,"s3g7":3.98,"s3g8":3.44,"s3g9":2.63,"s3g10":1.35,"s3g11":0.67,"s3g12":0.27,"s3g13":0.07},
{"t":77,"s3g1":0.13,"s3g2":0.36,"s3g3":0.86,"s3g4":1.64,"s3g5":2.63,"s3g6":3.5,"s3g7":3.62,"s3g8":3.14,"s3g9":2.36,"s3g10":1.46,"s3g11":0.71,"s3g12":0.29,"s3g13":0.07},
{"t":77.5,"s3g1":0.12,"s3g2":0.33,"s3g3":0.79,"s3g4":1.46,"s3g5":2.72,"s3g6":3.62,"s3g7":3.74,"s3g8":3.24,"s3g9":2.45,"s3g10":1.3,"s3g11":0.65,"s3g12":0.26,"s3g13":0.07},
{"t":78,"s3g1":0.12,"s3g2":0.34,"s3g3":0.81,"s3g4":1.52,"s3g5":2.45,"s3g6":3.26,"s3g7":3.38,"s3g8":2.94,"s3g9":2.18,"s3g10":1.35,"s3g11":0.67,"s3g12":0.27,"s3g13":0.07},
{"t":78.5,"s3g1":0.12,"s3g2":0.35,"s3g3":0.84,"s3g4":1.58,"s3g5":2.81,"s3g6":3.74,"s3g7":3.86,"s3g8":3.34,"s3g9":2.54,"s3g10":1.41,"s3g11":0.69,"s3g12":0.28,"s3g13":0.07},
{"t":79,"s3g1":0.12,"s3g2":0.32,"s3g3":0.76,"s3g4":1.4,"s3g5":2.54,"s3g6":3.38,"s3g7":3.5,"s3g8":3.04,"s3g9":2.27,"s3g10":1.24,"s3g11":0.63,"s3g12":0.25,"s3g13":0.07},
{"t":79.5,"s3g1":0.12,"s3g2":0.35,"s3g3":0.84,"s3g4":1.58,"s3g5":2.99,"s3g6":3.98,"s3g7":4.1,"s3g8":3.54,"s3g9":2.72,"s3g10":1.41,"s3g11":0.69,"s3g12":0.28,"s3g13":0.07},
{"t":80,"s3g1":0.12,"s3g2":0.34,"s3g3":0.81,"s3g4":1.52,"s3g5":2.63,"s3g6":3.5,"s3g7":3.62,"s3g8":3.14,"s3g9":2.36,"s3g10":1.35,"s3g11":0.67,"s3g12":0.27,"s3g13":0.07},
{"t":80.5,"s3g1":0.13,"s3g2":0.36,"s3g3":0.86,"s3g4":1.64,"s3g5":2.72,"s3g6":3.62,"s3g7":3.74,"s3g8":3.24,"s3g9":2.45,"s3g10":1.46,"s3g11":0.71,"s3g12":0.29,"s3g13":0.07},
{"t":81,"s3g1":0.12,"s3g2":0.33,"s3g3":0.79,"s3g4":1.46,"s3g5":2.45,"s3g6":3.26,"s3g7":3.38,"s3g8":2.94,"s3g9":2.18,"s3g10":1.3,"s3g11":0.65,"s3g12":0.26,"s3g13":0.07},
{"t":81.5,"s3g1":0.12,"s3g2":0.35,"s3g3":0.84,"s3g4":1.58,"s3g5":2.81,"s3g6":3.74,"s3g7":3.86,"s3g8":3.34,"s3g9":2.54,"s3g10":1.41,"s3g11":0.69,"s3g12":0.28,"s3g13":0.07},
{"t":82,"s3g1":0.12,"s3g2":0.34,"s3g3":0.81,"s3g4":1.52,"s3g5":2.54,"s3g6":3.38,"s3g7":3.5,"s3g8":3.04,"s3g9":2.27,"s3g10":1.35,"s3g11":0.67,"s3g12":0.27,"s3g13":0.07},
{"t":82.5,"s3g1":0.13,"s3g2":0.38,"s3g3":0.89,"s3g4":1.7,"s3g5":2.9,"s3g6":3.86,"s3g7":3.98,"s3g8":3.44,"s3g9":2.63,"s3g10":1.52,"s3g11":0.73,"s3g12":0.3,"s3g13":0.08},
{"t":83,"s3g1":0.12,"s3g2":0.33,"s3g3":0.79,"s3g4":1.46,"s3g5":2.63,"s3g6":3.5,"s3g7":3.62,"s3g8":3.14,"s3g9":2.36,"s3g10":1.3,"s3g11":0.65,"s3g12":0.26,"s3g13":0.07},
{"t":83.5,"s3g1":0.12,"s3g2":0.34,"s3g3":0.81,"s3g4":1.52,"s3g5":2.72,"s3g6":3.62,"s3g7":3.74,"s3g8":3.24,"s3g9":2.45,"s3g10":1.35,"s3g11":0.67,"s3g12":0.27,"s3g13":0.07},
{"t":84,"s3g1":0.12,"s3g2":0.35,"s3g3":0.84,"s3g4":1.58,"s3g5":2.45,"s3g6":3.26,"s3g7":3.38,"s3g8":2.94,"s3g9":2.18,"s3g10":1.41,"s3g11":0.69,"s3g12":0.28,"s3g13":0.07},
{"t":84.5,"s3g1":0.12,"s3g2":0.32,"s3g3":0.76,"s3g4":1.4,"s3g5":2.81,"s3g6":3.74,"s3g7":3.86,"s3g8":3.34,"s3g9":2.54,"s3g10":1.24,"s3g11":0.63,"s3g12":0.25,"s3g13":0.07},
{"t":85,"s3g1":0.12,"s3g2":0.35,"s3g3":0.84,"s3g4":1.58,"s3g5":2.54,"s3g6":3.38,"s3g7":3.5,"s3g8":3.04,"s3g9":2.27,"s3g10":1.41,"s3g11":0.69,"s3g12":0.28,"s3g13":0.07},
{"t":85.5,"s3g1":0.12,"s3g2":0.34,"s3g3":0.81,"s3g4":1.52,"s3g5":2.9,"s3g6":3.86,"s3g7":3.98,"s3g8":3.44,"s3g9":2.63,"s3g10":1.35,"s3g11":0.67,"s3g12":0.27,"s3g13":0.07},
{"t":86,"s3g1":0.13,"s3g2":0.36,"s3g3":0.86,"s3g4":1.64,"s3g5":2.63,"s3g6":3.5,"s3g7":3.62,"s3g8":3.14,"s3g9":2.36,"s3g10":1.46,"s3g11":0.71,"s3g12":0.29,"s3g13":0.07},
{"t":86.5,"s3g1":0.12,"s3g2":0.33,"s3g3":0.79,"s3g4":1.46,"s3g5":2.81,"s3g6":3.74,"s3g7":3.86,"s3g8":3.34,"s3g9":2.54,"s3g10":1.3,"s3g11":0.65,"s3g12":0.26,"s3g13":0.07},
{"t":87,"s3g1":0.12,"s3g2":0.35,"s3g3":0.84,"s3g4":1.58,"s3g5":2.54,"s3g6":3.38,"s3g7":3.5,"s3g8":3.04,"s3g9":2.27,"s3g10":1.41,"s3g11":0.69,"s3g12":0.28,"s3g13":0.07},
{"t":87.5,"s3g1":0.12,"s3g2":0.34,"s3g3":0.81,"s3g4":1.52,"s3g5":2.99,"s3g6":3.98,"s3g7":4.1,"s3g8":3.54,"s3g9":2.72,"s3g10":1.35,"s3g11":0.67,"s3g12":0.27,"s3g13":0.07},
{"t":88,"s3g1":0.13,"s3g2":0.38,"s3g3":0.89,"s3g4":1.7,"s3g5":2.54,"s3g6":3.38,"s3g7":3.5,"s3g8":3.04,"s3g9":2.27,"s3g10":1.52,"s3g11":0.73,"s3g12":0.3,"s3g13":0.08},
{"t":88.5,"s3g1":0.12,"s3g2":0.33,"s3g3":0.79,"s3g4":1.46,"s3g5":2.72,"s3g6":3.62,"s3g7":3.74,"s3g8":3.24,"s3g9":2.45,"s3g10":1.3,"s3g11":0.65,"s3g12":0.26,"s3g13":0.07},
{"t":89,"s3g1":0.12,"s3g2":0.35,"s3g3":0.84,"s3g4":1.58,"s3g5":2.63,"s3g6":3.5,"s3g7":3.62,"s3g8":3.14,"s3g9":2.36,"s3g10":1.41,"s3g11":0.69,"s3g12":0.28,"s3g13":0.07},
{"t":89.5,"s3g1":0.13,"s3g2":0.36,"s3g3":0.86,"s3g4":1.64,"s3g5":2.9,"s3g6":3.86,"s3g7":3.98,"s3g8":3.44,"s3g9":2.63,"s3g10":1.46,"s3g11":0.71,"s3g12":0.29,"s3g13":0.07},
{"t":90,"s3g1":0.12,"s3g2":0.34,"s3g3":0.81,"s3g4":1.52,"s3g5":2.72,"s3g6":3.62,"s3g7":3.74,"s3g8":3.24,"s3g9":2.45,"s3g10":1.35,"s3g11":0.67,"s3g12":0.27,"s3g13":0.07},
{"t":90.5,"s3g1":0.13,"s3g2":0.38,"s3g3":0.89,"s3g4":1.7,"s3g5":3.2,"s3g6":4.26,"s3g7":4.4,"s3g8":3.78,"s3g9":2.93,"s3g10":1.52,"s3g11":0.73,"s3g12":0.3,"s3g13":0.08},
{"t":91,"s3g1":0.12,"s3g2":0.35,"s3g3":0.84,"s3g4":1.58,"s3g5":2.72,"s3g6":3.62,"s3g7":3.74,"s3g8":3.24,"s3g9":2.45,"s3g10":1.41,"s3g11":0.69,"s3g12":0.28,"s3g13":0.07},
{"t":91.5,"s3g1":0.12,"s3g2":0.34,"s3g3":0.81,"s3g4":1.52,"s3g5":2.9,"s3g6":3.86,"s3g7":3.98,"s3g8":3.44,"s3g9":2.63,"s3g10":1.35,"s3g11":0.67,"s3g12":0.27,"s3g13":0.07},
{"t":92,"s3g1":0.13,"s3g2":0.36,"s3g3":0.86,"s3g4":1.64,"s3g5":2.54,"s3g6":3.38,"s3g7":3.5,"s3g8":3.04,"s3g9":2.27,"s3g10":1.46,"s3g11":0.71,"s3g12":0.29,"s3g13":0.07},
{"t":92.5,"s3g1":0.12,"s3g2":0.33,"s3g3":0.79,"s3g4":1.46,"s3g5":2.81,"s3g6":3.74,"s3g7":3.86,"s3g8":3.34,"s3g9":2.54,"s3g10":1.3,"s3g11":0.65,"s3g12":0.26,"s3g13":0.07},
{"t":93,"s3g1":0.12,"s3g2":0.35,"s3g3":0.84,"s3g4":1.58,"s3g5":2.63,"s3g6":3.5,"s3g7":3.62,"s3g8":3.14,"s3g9":2.36,"s3g10":1.41,"s3g11":0.69,"s3g12":0.28,"s3g13":0.07},
{"t":93.5,"s3g1":0.12,"s3g2":0.34,"s3g3":0.81,"s3g4":1.52,"s3g5":2.81,"s3g6":3.74,"s3g7":3.86,"s3g8":3.34,"s3g9":2.54,"s3g10":1.35,"s3g11":0.67,"s3g12":0.27,"s3g13":0.07},
{"t":94,"s3g1":0.13,"s3g2":0.36,"s3g3":0.86,"s3g4":1.64,"s3g5":2.45,"s3g6":3.26,"s3g7":3.38,"s3g8":2.94,"s3g9":2.18,"s3g10":1.46,"s3g11":0.71,"s3g12":0.29,"s3g13":0.07},
{"t":94.5,"s3g1":0.12,"s3g2":0.33,"s3g3":0.79,"s3g4":1.46,"s3g5":2.9,"s3g6":3.86,"s3g7":3.98,"s3g8":3.44,"s3g9":2.63,"s3g10":1.3,"s3g11":0.65,"s3g12":0.26,"s3g13":0.07},
{"t":95,"s3g1":0.12,"s3g2":0.35,"s3g3":0.84,"s3g4":1.58,"s3g5":2.63,"s3g6":3.5,"s3g7":3.62,"s3g8":3.14,"s3g9":2.36,"s3g10":1.41,"s3g11":0.69,"s3g12":0.28,"s3g13":0.07},
{"t":95.5,"s3g1":0.12,"s3g2":0.34,"s3g3":0.81,"s3g4":1.52,"s3g5":2.72,"s3g6":3.62,"s3g7":3.74,"s3g8":3.24,"s3g9":2.45,"s3g10":1.35,"s3g11":0.67,"s3g12":0.27,"s3g13":0.07},
{"t":96,"s3g1":0.12,"s3g2":0.33,"s3g3":0.79,"s3g4":1.46,"s3g5":2.54,"s3g6":3.38,"s3g7":3.5,"s3g8":3.04,"s3g9":2.27,"s3g10":1.3,"s3g11":0.65,"s3g12":0.26,"s3g13":0.07},
{"t":96.5,"s3g1":0.13,"s3g2":0.36,"s3g3":0.86,"s3g4":1.64,"s3g5":2.99,"s3g6":3.98,"s3g7":4.1,"s3g8":3.54,"s3g9":2.72,"s3g10":1.46,"s3g11":0.71,"s3g12":0.29,"s3g13":0.07},
{"t":97,"s3g1":0.12,"s3g2":0.34,"s3g3":0.81,"s3g4":1.52,"s3g5":2.63,"s3g6":3.5,"s3g7":3.62,"s3g8":3.14,"s3g9":2.36,"s3g10":1.35,"s3g11":0.67,"s3g12":0.27,"s3g13":0.07},
{"t":97.5,"s3g1":0.12,"s3g2":0.35,"s3g3":0.84,"s3g4":1.58,"s3g5":2.81,"s3g6":3.74,"s3g7":3.86,"s3g8":3.34,"s3g9":2.54,"s3g10":1.41,"s3g11":0.69,"s3g12":0.28,"s3g13":0.07},
{"t":98,"s3g1":0.12,"s3g2":0.33,"s3g3":0.79,"s3g4":1.46,"s3g5":2.54,"s3g6":3.38,"s3g7":3.5,"s3g8":3.04,"s3g9":2.27,"s3g10":1.3,"s3g11":0.65,"s3g12":0.26,"s3g13":0.07},
{"t":98.5,"s3g1":0.13,"s3g2":0.36,"s3g3":0.86,"s3g4":1.64,"s3g5":2.9,"s3g6":3.86,"s3g7":3.98,"s3g8":3.44,"s3g9":2.63,"s3g10":1.46,"s3g11":0.71,"s3g12":0.29,"s3g13":0.07},
{"t":99,"s3g1":0.12,"s3g2":0.34,"s3g3":0.81,"s3g4":1.52,"s3g5":2.45,"s3g6":3.26,"s3g7":3.38,"s3g8":2.94,"s3g9":2.18,"s3g10":1.35,"s3g11":0.67,"s3g12":0.27,"s3g13":0.07},
{"t":99.5,"s3g1":0.12,"s3g2":0.35,"s3g3":0.84,"s3g4":1.58,"s3g5":2.81,"s3g6":3.74,"s3g7":3.86,"s3g8":3.34,"s3g9":2.54,"s3g10":1.41,"s3g11":0.69,"s3g12":0.28,"s3g13":0.07},
{"t":100,"s3g1":0.12,"s3g2":0.33,"s3g3":0.79,"s3g4":1.46,"s3g5":2.63,"s3g6":3.5,"s3g7":3.62,"s3g8":3.14,"s3g9":2.36,"s3g10":1.3,"s3g11":0.65,"s3g12":0.26,"s3g13":0.07}
]},
"transform": [{"fold": ["s3g1","s3g2","s3g3","s3g4","s3g5","s3g6","s3g7","s3g8","s3g9","s3g10","s3g11","s3g12","s3g13"], "as": ["series","flux"]}],
"config": {
  "view": {"stroke": "black", "strokeWidth": 1},
  "font": "Liberation Sans",
  "axis": {"labelFont": "Liberation Sans", "titleFont": "Liberation Sans", "labelColor": "black", "titleColor": "black", "tickColor": "black", "domain": false, "labelFlush": false, "labelOverlap": false}
},
"layer": [
  {"mark": {"type": "line", "opacity": 0},
   "encoding": {
     "x": {"field": "t", "type": "quantitative", "scale": {"domain": [0,100], "nice": false},
           "axis": {"orient": "bottom", "values": [5,15,25,35,45,55,65,75,85,95], "labels": false, "title": null, "grid": true, "gridColor": "#d4d4d4", "gridDash": [1,2], "tickSize": -3}},
     "y": {"field": "flux", "type": "quantitative", "scale": {"domain": [0,8], "nice": false},
           "axis": {"orient": "left", "values": [0.5,1.5,2.5,3.5,4.5,5.5,6.5,7.5], "labels": false, "title": null, "grid": true, "gridColor": "#d4d4d4", "gridDash": [1,2], "tickSize": -3}},
     "detail": {"field": "series"}
   }},
  {"mark": {"type": "line", "opacity": 0},
   "encoding": {
     "x": {"field": "t", "type": "quantitative", "scale": {"domain": [0,100], "nice": false},
           "axis": {"orient": "top", "values": [5,15,25,35,45,55,65,75,85,95], "labels": false, "title": null, "grid": false, "tickSize": -3}},
     "y": {"field": "flux", "type": "quantitative", "scale": {"domain": [0,8], "nice": false},
           "axis": {"orient": "right", "values": [0.5,1.5,2.5,3.5,4.5,5.5,6.5,7.5], "labels": false, "title": null, "grid": false, "tickSize": -3}},
     "detail": {"field": "series"}
   }},
  {"mark": {"type": "line", "opacity": 0},
   "encoding": {
     "x": {"field": "t", "type": "quantitative", "scale": {"domain": [0,100], "nice": false},
           "axis": {"orient": "top", "values": [0,10,20,30,40,50,60,70,80,90,100], "labels": false, "title": null, "grid": false, "tickSize": -5}},
     "y": {"field": "flux", "type": "quantitative", "scale": {"domain": [0,8], "nice": false},
           "axis": {"orient": "right", "values": [0,1,2,3,4,5,6,7,8], "labels": false, "title": null, "grid": false, "tickSize": -5}},
     "detail": {"field": "series"}
   }},
  {"mark": {"type": "line", "strokeWidth": 1},
   "encoding": {
     "x": {"field": "t", "type": "quantitative", "scale": {"domain": [0,100], "nice": false},
           "axis": {"orient": "bottom", "values": [0,10,20,30,40,50,60,70,80,90,100], "title": "Time (s)", "grid": true, "gridColor": "#c8c8c8", "tickSize": -5, "labelFontSize": 14, "labelPadding": 21, "titleFontSize": 16, "titleFontWeight": "normal", "titleY": 48, "titleBaseline": "middle"}},
     "y": {"field": "flux", "type": "quantitative", "scale": {"domain": [0,8], "nice": false},
           "axis": {"orient": "left", "values": [0,1,2,3,4,5,6,7,8], "title": "Particle number flux (#/(m²·s))", "grid": true, "gridColor": "#c8c8c8", "tickSize": -5, "labelFontSize": 14, "labelPadding": 12, "labelExpr": "datum.value == 0 ? '0E+00' : datum.value + 'E+06'", "titleFontSize": 16, "titleFontWeight": "normal", "titleX": -57, "titleY": 153, "titleAngle": -90, "titleBaseline": "middle", "titleAlign": "center"}},
     "color": {"field": "series", "type": "nominal",
       "scale": {"domain": ["s3g1","s3g2","s3g3","s3g4","s3g5","s3g6","s3g7","s3g8","s3g9","s3g10","s3g11","s3g12","s3g13"],
                 "range": ["#000000","#ff0000","#00ff00","#0000ff","#00ffff","#ff00ff","#ffff00","#808000","#000080","#800080","#800000","#008000","#008080"]},
       "legend": {"title": null, "orient": "none", "legendX": 8, "legendY": 6, "columns": 2, "gridAlign": "none", "direction": "horizontal", "symbolType": "M-4,0L4,0", "symbolSize": 90, "symbolStrokeWidth": 1.5, "symbolOffset": 11, "labelOffset": 14, "labelFontSize": 16, "labelFont": "Liberation Sans", "labelColor": "black", "labelLimit": 0, "rowPadding": 5, "columnPadding": 2, "padding": 4, "strokeColor": "black", "fillColor": "white", "labelBaseline": "middle"}}
   }}
],
"resolve": {"axis": {"x": "independent", "y": "independent"}}
}
